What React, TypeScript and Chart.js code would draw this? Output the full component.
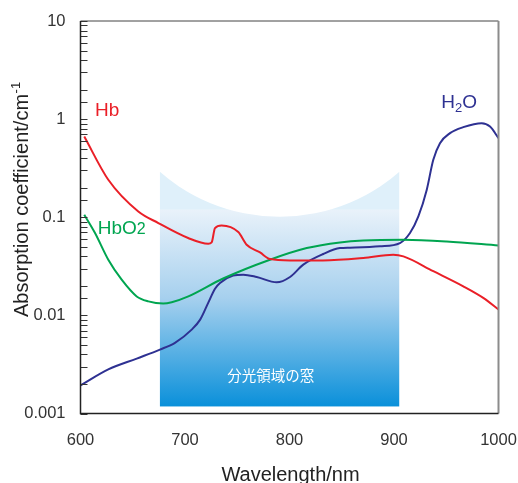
import React, { useEffect, useRef } from 'react';
import { Chart, registerables } from 'chart.js';

Chart.register(...registerables);

// ---- data ----
const hbWavelengths = [603.6, 626.6, 655.3, 674.5, 703, 722.3, 725.5, 728.7, 735, 751, 759, 771.8, 781.3, 800.5, 832, 870.6, 899.3, 909, 937.6, 966.3, 985.4, 1000];
const hbValues = [0.664, 0.241, 0.1146, 0.0873, 0.0614, 0.0537, 0.0554, 0.0776, 0.0826, 0.0707, 0.0525, 0.0438, 0.0375, 0.0363, 0.0363, 0.0384, 0.0415, 0.0399, 0.0282, 0.0198, 0.0151, 0.0115];

const hbo2Wavelengths = [603.6, 613.9, 626.6, 639.4, 653.8, 664.9, 679.2, 687.3, 703.2, 736, 781.3, 816.5, 848.3, 870.6, 909, 950.4, 1000];
const hbo2Values = [0.106, 0.069, 0.0369, 0.0231, 0.0156, 0.0139, 0.0132, 0.0136, 0.0156, 0.0236, 0.0369, 0.0485, 0.0554, 0.058, 0.059, 0.0567, 0.0516];

const h2oWavelengths = [600, 626.6, 653.8, 676, 690.4, 706.4, 714.5, 722.3, 728.7, 733.5, 746, 755.8, 768.6, 787.7, 800.5, 813.2, 832.3, 848.3, 857.9, 886.6, 905.7, 915.3, 923.3, 931.3, 937.6, 944, 953.6, 966.3, 983.9, 991.9, 1000];
const h2oValues = [0.00193, 0.00281, 0.00363, 0.00448, 0.00525, 0.00716, 0.00905, 0.0135, 0.0187, 0.0214, 0.0254, 0.026, 0.0246, 0.0217, 0.0246, 0.0329, 0.0422, 0.0485, 0.049, 0.0505, 0.0546, 0.069, 0.102, 0.19, 0.385, 0.569, 0.72, 0.828, 0.91, 0.839, 0.64];

const xTickValues = [600, 700, 800, 900, 1000];
const xTickLabels = ['600', '700', '800', '900', '1000'];
const yTickValues = [0.001, 0.01, 0.1, 1, 10];
const yTickLabels = ['0.001', '0.01', '0.1', '1', '10'];

const seriesNames = ['Hb', 'HbO2', 'H2O'];
const windowRange = [676, 905]; // spectroscopic window (nm)
const windowLabel = '分光領域の窓';

const FONT = '"Liberation Sans", Arial, Helvetica, sans-serif';
const RED = '#ea1f27';
const GREEN = '#00a550';
const NAVY = '#2e3192';

const decorPlugin = {
  id: 'decor',
  beforeDatasetsDraw(chart: any) {
    const { ctx, scales } = chart;
    const x = scales.x;
    const y = scales.y;
    const xl = x.getPixelForValue(windowRange[0]);
    const xr = x.getPixelForValue(windowRange[1]);
    const yTop = y.getPixelForValue(0.29);
    const yBand = y.getPixelForValue(0.119);
    const yBot = y.getPixelForValue(0.00118);
    const yLow = y.getPixelForValue(0.101);
    ctx.save();
    ctx.fillStyle = '#dff0fa';
    ctx.fillRect(xl, yTop, xr - xl, yBand - yTop);
    const g = ctx.createLinearGradient(0, yBand, 0, yBot);
    g.addColorStop(0, '#e9f2fa');
    g.addColorStop(0.45, '#a6d0ee');
    g.addColorStop(1, '#0a90da');
    ctx.fillStyle = g;
    ctx.fillRect(xl, yBand, xr - xl, yBot - yBand);
    // circular bite out of the top
    const w = (xr - xl) / 2;
    const s = yLow - yTop;
    const R = (w * w + s * s) / (2 * s);
    const cx = (xl + xr) / 2;
    const cy = yLow - R;
    ctx.beginPath();
    ctx.rect(xl, yTop - 2, xr - xl, yBot - yTop + 2);
    ctx.clip();
    ctx.beginPath();
    ctx.arc(cx, cy, R, 0, Math.PI * 2);
    ctx.fillStyle = '#ffffff';
    ctx.fill();
    ctx.restore();

    ctx.save();
    ctx.fillStyle = '#ffffff';
    ctx.font = '14.5px "Noto Sans CJK JP", sans-serif';
    ctx.textAlign = 'center';
    ctx.textBaseline = 'middle';
    ctx.fillText(windowLabel, x.getPixelForValue(782), y.getPixelForValue(0.00244));
    ctx.restore();
  },
  afterDatasetsDraw(chart: any) {
    const { ctx, chartArea, scales } = chart;
    const x = scales.x;
    const y = scales.y;
    const { left, right, top, bottom } = chartArea;
    ctx.save();
    // top border
    ctx.strokeStyle = '#444';
    ctx.lineWidth = 1;
    ctx.beginPath();
    ctx.moveTo(left, top);
    ctx.lineTo(right, top);
    ctx.stroke();
    // right border
    ctx.strokeStyle = '#8c8c8c';
    ctx.lineWidth = 2;
    ctx.beginPath();
    ctx.moveTo(right, top);
    ctx.lineTo(right, bottom);
    ctx.stroke();
    // inward ticks on y
    ctx.strokeStyle = '#333';
    ctx.lineWidth = 1;
    for (const t of y.ticks) {
      const py = Math.round(y.getPixelForValue(t.value)) + 0.5;
      ctx.beginPath();
      ctx.moveTo(left, py);
      ctx.lineTo(left + 7, py);
      ctx.stroke();
    }
    // left and bottom axes
    ctx.strokeStyle = '#222';
    ctx.lineWidth = 1.5;
    ctx.beginPath();
    ctx.moveTo(left, top);
    ctx.lineTo(left, bottom);
    ctx.lineTo(right, bottom);
    ctx.stroke();

    // series labels
    ctx.textAlign = 'left';
    ctx.textBaseline = 'alphabetic';
    ctx.font = `19px ${FONT}`;
    ctx.fillStyle = RED;
    ctx.fillText(seriesNames[0], x.getPixelForValue(613.9), y.getPixelForValue(1.08));

    ctx.fillStyle = GREEN;
    const gx = x.getPixelForValue(616.5);
    const gy = y.getPixelForValue(0.068);
    ctx.fillText('HbO', gx, gy);
    const wHbO = ctx.measureText('HbO').width;
    ctx.font = `16px ${FONT}`;
    ctx.fillText('2', gx + wHbO, gy);

    ctx.fillStyle = NAVY;
    ctx.font = `19px ${FONT}`;
    const hx = x.getPixelForValue(945.3);
    const hy = y.getPixelForValue(1.29);
    ctx.fillText('H', hx, hy);
    const wH = ctx.measureText('H').width;
    ctx.font = `13px ${FONT}`;
    ctx.fillText('2', hx + wH, hy + 4);
    const w2 = ctx.measureText('2').width;
    ctx.font = `19px ${FONT}`;
    ctx.fillText('O', hx + wH + w2, hy);

    // axis titles
    ctx.fillStyle = '#222';
    ctx.font = `20px ${FONT}`;
    ctx.textAlign = 'center';
    ctx.fillText('Wavelength/nm', (left + right) / 2 + 1, 481);

    ctx.save();
    ctx.translate(28, 317);
    ctx.rotate(-Math.PI / 2);
    ctx.textAlign = 'left';
    ctx.font = `20px ${FONT}`;
    const main = 'Absorption coefficient/cm';
    ctx.fillText(main, 0, 0);
    const mw = ctx.measureText(main).width;
    ctx.font = `13px ${FONT}`;
    ctx.fillText('-1', mw + 0.5, -8);
    ctx.restore();

    ctx.restore();
  },
};

export default function App() {
  const canvasRef = useRef<HTMLCanvasElement | null>(null);

  useEffect(() => {
    const canvas = canvasRef.current;
    if (!canvas) return;
    const mk = (xs: number[], ys: number[]) => xs.map((v, i) => ({ x: v, y: ys[i] }));
    const chart = new Chart(canvas, {
      type: 'line',
      data: {
        datasets: [
          { label: seriesNames[0], data: mk(hbWavelengths, hbValues), borderColor: RED, borderWidth: 2, pointRadius: 0, cubicInterpolationMode: 'monotone', fill: false },
          { label: seriesNames[1], data: mk(hbo2Wavelengths, hbo2Values), borderColor: GREEN, borderWidth: 2, pointRadius: 0, cubicInterpolationMode: 'monotone', fill: false },
          { label: seriesNames[2], data: mk(h2oWavelengths, h2oValues), borderColor: NAVY, borderWidth: 2, pointRadius: 0, cubicInterpolationMode: 'monotone', fill: false },
        ],
      } as any,
      options: {
        animation: false,
        responsive: false,
        maintainAspectRatio: false,
        layout: { padding: { left: 0, right: 19.5, top: 21, bottom: 0 } },
        plugins: { legend: { display: false }, tooltip: { enabled: false } },
        scales: {
          x: {
            type: 'linear',
            min: 600,
            max: 1000,
            afterFit: (s: any) => { s.height = 69.5; s.paddingLeft = 0; s.paddingRight = 0; },
            afterBuildTicks: (s: any) => { s.ticks = xTickValues.map((v) => ({ value: v })); },
            grid: { display: false, drawTicks: false },
            border: { display: false },
            ticks: {
              color: '#333',
              padding: 17,
              font: { size: 16.5, family: FONT },
              maxRotation: 0,
              autoSkip: false,
              callback: (value: any) => {
                const idx = xTickValues.indexOf(Number(value));
                return idx >= 0 ? xTickLabels[idx] : '';
              },
            },
          },
          y: {
            type: 'logarithmic',
            min: 0.001,
            max: 10,
            afterFit: (s: any) => { s.width = 80.5; s.paddingTop = 0; s.paddingBottom = 0; },
            grid: { display: false, drawTicks: false },
            border: { display: false },
            ticks: {
              color: '#333',
              padding: 15,
              autoSkip: false,
              font: { size: 16.5, family: FONT },
              callback: (value: any) => {
                const v = Number(value);
                const idx = yTickValues.findIndex((t) => Math.abs(t - v) / t < 1e-6);
                return idx >= 0 ? yTickLabels[idx] : '';
              },
            },
          },
        },
      } as any,
      plugins: [decorPlugin],
    });
    return () => chart.destroy();
  }, []);

  return (
    <div style={{ position: 'fixed', left: 0, top: 0, width: 518, height: 483, background: '#fff' }}>
      <canvas ref={canvasRef} width={518} height={483} style={{ width: 518, height: 483, display: 'block' }} />
    </div>
  );
}
